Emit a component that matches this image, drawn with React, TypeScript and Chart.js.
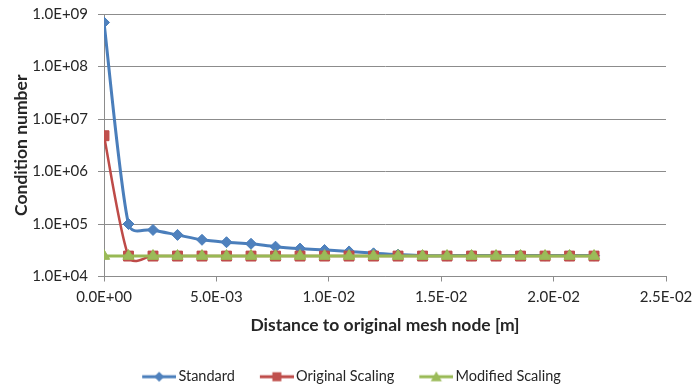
import React, { useEffect, useRef } from "react";
import { Chart, registerables } from "chart.js";

Chart.register(...registerables);

// Distance of each evaluated node from the original mesh node [m]
const distance = [
  0, 0.00109, 0.00218, 0.00327, 0.00436, 0.00545, 0.00654, 0.00763, 0.00872,
  0.00981, 0.0109, 0.01199, 0.01308, 0.01417, 0.01526, 0.01635, 0.01744,
  0.01853, 0.01962, 0.02071, 0.0218,
];

// Condition numbers per scaling strategy
const standard = [
  6.9e8, 1.0e5, 7.7e4, 6.2e4, 5.0e4, 4.5e4, 4.2e4, 3.7e4, 3.4e4, 3.2e4, 3.0e4,
  2.76e4, 2.61e4, 2.5e4, 2.5e4, 2.5e4, 2.5e4, 2.5e4, 2.5e4, 2.5e4, 2.5e4,
];
const originalScaling = [
  4.8e6, 2.45e4, 2.45e4, 2.45e4, 2.45e4, 2.45e4, 2.45e4, 2.45e4, 2.45e4, 2.45e4,
  2.45e4, 2.45e4, 2.45e4, 2.45e4, 2.45e4, 2.45e4, 2.45e4, 2.45e4, 2.45e4,
  2.45e4, 2.45e4,
];
const modifiedScaling = [
  2.45e4, 2.45e4, 2.45e4, 2.45e4, 2.45e4, 2.45e4, 2.45e4, 2.45e4, 2.45e4,
  2.45e4, 2.45e4, 2.45e4, 2.45e4, 2.45e4, 2.45e4, 2.45e4, 2.45e4, 2.45e4,
  2.45e4, 2.45e4, 2.45e4,
];

const yTicks = [1e4, 1e5, 1e6, 1e7, 1e8, 1e9];
const seriesNames = ["Standard", "Original Scaling", "Modified Scaling"];

const FONT = "Lato, 'Open Sans', sans-serif";
const GRID = "#8c8c8c";
const TEXT = "#262626";

const series = [
  { name: seriesNames[0], values: standard, line: "#4a7ebb", fill: "#4f81bd", style: "rectRot", radius: 5.5, width: 3 },
  { name: seriesNames[1], values: originalScaling, line: "#be4b48", fill: "#c0504d", style: "rect", radius: 7, width: 2.5 },
  { name: seriesNames[2], values: modifiedScaling, line: "#98b954", fill: "#9bbb59", style: "triangle", radius: 6.5, width: 3 },
];

function sci(v: number): string {
  if (v === 0) return "0.0E+00";
  const [m, e] = v.toExponential(1).split("e");
  const n = parseInt(e, 10);
  return `${m}E${n < 0 ? "-" : "+"}${String(Math.abs(n)).padStart(2, "0")}`;
}

// Legend symbol: a short line with the series marker, with blank space on the
// left so that consecutive legend entries are spaced apart.
const ICON_GAP = 26;
const ICON_LINE = 34;
function legendIcon(line: string, fill: string, style: string): HTMLCanvasElement {
  const c = document.createElement("canvas");
  c.width = ICON_GAP + ICON_LINE;
  c.height = 12;
  const ctx = c.getContext("2d")!;
  const x0 = ICON_GAP;
  const cx = x0 + ICON_LINE / 2;
  ctx.strokeStyle = line;
  ctx.lineWidth = 3;
  ctx.beginPath();
  ctx.moveTo(x0, 6);
  ctx.lineTo(x0 + ICON_LINE, 6);
  ctx.stroke();
  ctx.fillStyle = fill;
  ctx.beginPath();
  if (style === "rectRot") {
    ctx.moveTo(cx, 1);
    ctx.lineTo(cx + 5, 6);
    ctx.lineTo(cx, 11);
    ctx.lineTo(cx - 5, 6);
  } else if (style === "rect") {
    ctx.rect(cx - 4.5, 1.5, 9, 9);
  } else {
    ctx.moveTo(cx, 0.5);
    ctx.lineTo(cx + 5.5, 10.5);
    ctx.lineTo(cx - 5.5, 10.5);
  }
  ctx.closePath();
  ctx.fill();
  return c;
}

const LEGEND_DX = -5;
const LEGEND_DY = 9;
const legendOffset = {
  id: "legendOffset",
  afterLayout(chart: any) {
    const lg = chart.legend;
    if (lg) {
      lg.left += LEGEND_DX;
      lg.right += LEGEND_DX;
      lg.top += LEGEND_DY;
      lg.bottom += LEGEND_DY;
    }
  },
};

// Smoothed lines: Catmull-Rom tangents (one sixth of the neighbour span),
// each handle limited to half the length of the segment it belongs to.
function limit(dx: number, dy: number, maxLen: number): [number, number] {
  const len = Math.hypot(dx, dy);
  if (len <= maxLen || len === 0) return [dx, dy];
  const k = maxLen / len;
  return [dx * k, dy * k];
}
const smoothLines = {
  id: "smoothLines",
  beforeDatasetsDraw(chart: any) {
    chart.data.datasets.forEach((_: any, di: number) => {
      const meta = chart.getDatasetMeta(di);
      const line = meta.dataset;
      const pts = meta.data;
      if (!line || !pts.length) return;
      line.updateControlPoints(chart.chartArea, meta.indexAxis);
      for (let i = 0; i < pts.length; i++) {
        const p = pts[i];
        const prev = pts[Math.max(i - 1, 0)];
        const next = pts[Math.min(i + 1, pts.length - 1)];
        const tx = (next.x - prev.x) / 6;
        const ty = (next.y - prev.y) / 6;
        const [ax, ay] = limit(tx, ty, 0.5 * Math.hypot(p.x - prev.x, p.y - prev.y));
        const [bx, by] = limit(tx, ty, 0.5 * Math.hypot(next.x - p.x, next.y - p.y));
        p.cp1x = p.x - ax;
        p.cp1y = p.y - ay;
        p.cp2x = p.x + bx;
        p.cp2y = p.y + by;
      }
      line._pointsUpdated = true;
      line._path = undefined;
    });
  },
};

export default function App() {
  const ref = useRef<HTMLCanvasElement | null>(null);

  useEffect(() => {
    if (!ref.current) return;
    const icons = series.map((s) => legendIcon(s.line, s.fill, s.style));
    const datasets = series.map((s, i) => ({
      label: s.name,
      data: distance.map((x, k) => ({ x, y: s.values[k] })),
      borderColor: s.line,
      backgroundColor: s.fill,
      borderWidth: s.width,
      pointStyle: s.style,
      pointRadius: s.radius,
      pointBorderWidth: 1,
      pointBorderColor: s.line,
      pointBackgroundColor: s.fill,
      tension: 0.2,
      order: series.length - i,
    }));

    const chart = new Chart(ref.current, {
      type: "line",
      data: { datasets },
      plugins: [legendOffset, smoothLines],
      options: {
        animation: false,
        responsive: false,
        layout: { padding: { left: 0, right: 0, top: 0, bottom: 0 } },
        plugins: {
          tooltip: { enabled: false },
          legend: {
            position: "bottom",
            labels: {
              usePointStyle: true,
              pointStyleWidth: ICON_GAP + ICON_LINE - 10,
              padding: 4,
              color: TEXT,
              font: { family: FONT, size: 14.5 },
              generateLabels: () =>
                series.map((s, i) => ({
                  text: s.name,
                  pointStyle: icons[i],
                  fillStyle: s.fill,
                  strokeStyle: s.line,
                  lineWidth: 0,
                  hidden: false,
                  datasetIndex: i,
                  fontColor: TEXT,
                })),
            },
          },
        },
        scales: {
          x: {
            type: "linear",
            min: 0,
            max: 0.025,
            ticks: {
              stepSize: 0.005,
              padding: 7,
              color: TEXT,
              font: { family: FONT, size: 15 },
              callback: (v: any) => sci(Number(v)),
            },
            grid: { display: true, drawOnChartArea: false, drawTicks: true, tickLength: 5, color: GRID },
            border: { display: true, color: GRID },
            title: {
              display: true,
              text: "Distance to original mesh node [m]",
              color: TEXT,
              font: { family: FONT, size: 17.5, weight: "bold" },
              padding: { top: 0, bottom: 21 },
            },
            afterFit: (s: any) => {
              s.height = 80;
              s.paddingLeft = 0;
              s.paddingRight = 26;
            },
          },
          y: {
            type: "logarithmic",
            min: 1e4,
            max: 1e9,
            afterBuildTicks: (s: any) => {
              s.ticks = yTicks.map((value) => ({ value }));
            },
            ticks: {
              padding: 10,
              color: TEXT,
              font: { family: FONT, size: 15 },
              callback: (v: any) => sci(Number(v)),
            },
            grid: { color: GRID, tickLength: 6 },
            border: { display: true, color: GRID },
            title: {
              display: true,
              text: "Condition number",
              color: TEXT,
              font: { family: FONT, size: 17.5, weight: "bold" },
              padding: { top: 10.5, bottom: 0 },
            },
            afterFit: (s: any) => {
              s.width = 104;
              s.paddingTop = 14;
              s.paddingBottom = 0;
            },
          },
        },
      },
    } as any);
    return () => chart.destroy();
  }, []);

  return (
    <div style={{ position: "fixed", left: 0, top: 0, width: 692, height: 385, background: "#fff" }}>
      <canvas ref={ref} width={692} height={385} style={{ display: "block" }} />
    </div>
  );
}
